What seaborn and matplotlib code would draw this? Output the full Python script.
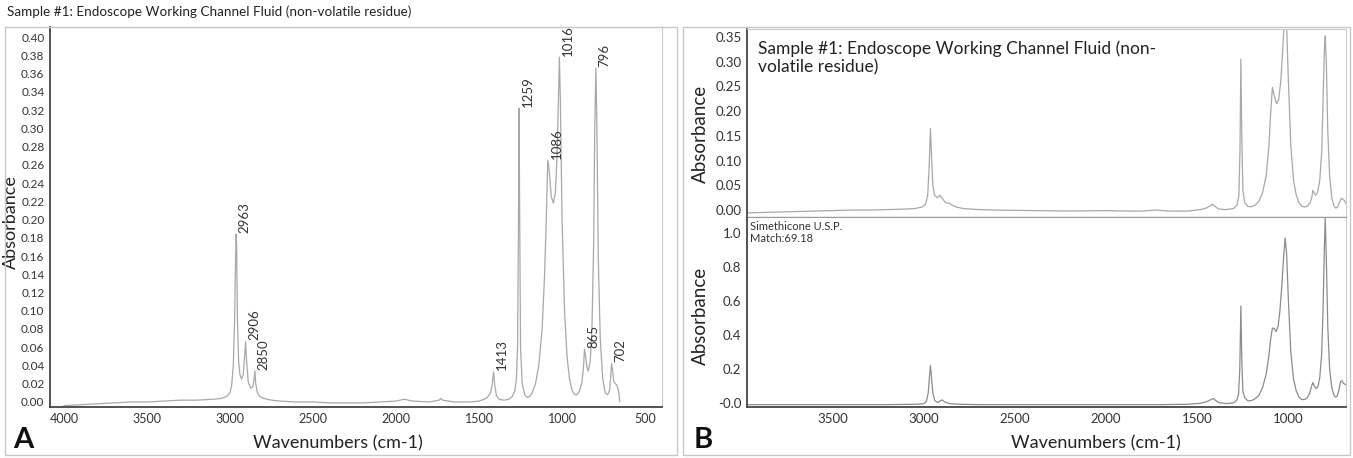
import matplotlib
matplotlib.use("Agg")
import matplotlib.pyplot as plt
from matplotlib.patches import Rectangle
import seaborn as sns

# --- panel A: sample spectrum ---
wn_a = [4000, 3900, 3800, 3700, 3600, 3500, 3400, 3300, 3200, 3100, 3050, 3020,
        3000, 2990, 2980, 2972, 2966, 2963, 2960, 2955, 2948, 2940, 2930, 2920,
        2912, 2906, 2900, 2890, 2875, 2862, 2855, 2850, 2845, 2835, 2820, 2800,
        2750, 2700, 2600, 2500, 2400, 2300, 2200, 2100, 2000, 1950, 1900, 1800,
        1740, 1730, 1720, 1650, 1600, 1550, 1500, 1470, 1450, 1430, 1420, 1413,
        1405, 1395, 1380, 1350, 1320, 1300, 1285, 1275, 1268, 1263, 1259, 1255,
        1250, 1240, 1225, 1210, 1195, 1180, 1160, 1140, 1120, 1105, 1095, 1086,
        1078, 1065, 1052, 1040, 1030, 1022, 1016, 1010, 1000, 985, 970, 955,
        940, 925, 910, 895, 880, 870, 865, 858, 850, 842, 830, 820,
        810, 803, 796, 790, 782, 770, 755, 740, 725, 715, 708, 702,
        696, 688, 678, 668, 660, 652]
abs_a = [-0.004, -0.003, -0.002, -0.001, 0.0, 0.0, 0.001, 0.002, 0.002, 0.003, 0.004, 0.006,
         0.010, 0.018, 0.040, 0.090, 0.160, 0.184, 0.170, 0.090, 0.045, 0.030, 0.025, 0.030,
         0.050, 0.066, 0.045, 0.022, 0.015, 0.017, 0.025, 0.034, 0.020, 0.010, 0.006, 0.004,
         0.002, 0.001, 0.0, 0.0, -0.001, -0.001, -0.001, 0.0, 0.001, 0.003, 0.001, 0.0,
         0.002, 0.004, 0.002, 0.0, 0.0, 0.0, 0.001, 0.003, 0.005, 0.010, 0.020, 0.033,
         0.018, 0.007, 0.003, 0.002, 0.003, 0.006, 0.012, 0.025, 0.060, 0.180, 0.322, 0.200,
         0.060, 0.020, 0.008, 0.005, 0.006, 0.010, 0.020, 0.040, 0.080, 0.140, 0.200, 0.265,
         0.255, 0.225, 0.218, 0.230, 0.270, 0.330, 0.378, 0.330, 0.200, 0.100, 0.050, 0.025,
         0.013, 0.008, 0.008, 0.012, 0.022, 0.040, 0.058, 0.050, 0.038, 0.034, 0.045, 0.080,
         0.170, 0.300, 0.366, 0.300, 0.160, 0.070, 0.025, 0.010, 0.008, 0.012, 0.025, 0.042,
         0.035, 0.022, 0.020, 0.018, 0.012, 0.0]

peak_labels = [2963, 2906, 2850, 1413, 1259, 1086, 1016, 865, 796, 702]
peak_heights = [0.184, 0.066, 0.034, 0.033, 0.322, 0.265, 0.378, 0.058, 0.366, 0.042]

# --- panel B top: same sample, library view ---
wn_b1 = [3990, 3900, 3800, 3700, 3600, 3500, 3400, 3300, 3200, 3100, 3050, 3010,
         2990, 2978, 2970, 2963, 2957, 2950, 2940, 2925, 2910, 2895, 2880, 2860,
         2845, 2820, 2780, 2700, 2600, 2400, 2200, 2000, 1900, 1800, 1730, 1650,
         1550, 1480, 1450, 1430, 1413, 1400, 1380, 1340, 1300, 1280, 1270, 1264,
         1259, 1254, 1248, 1238, 1220, 1200, 1180, 1160, 1140, 1120, 1105, 1095,
         1086, 1076, 1064, 1052, 1040, 1030, 1020, 1010, 1000, 985, 970, 955,
         940, 925, 910, 895, 880, 870, 864, 856, 848, 838, 826, 815,
         806, 800, 796, 790, 782, 772, 760, 748, 738, 728, 718, 708,
         700, 692, 684, 676]
abs_b1 = [-0.006, -0.005, -0.004, -0.003, -0.002, -0.001, 0.0, 0.0, 0.001, 0.002, 0.003, 0.006,
          0.012, 0.030, 0.090, 0.165, 0.110, 0.050, 0.030, 0.025, 0.030, 0.022, 0.015, 0.014,
          0.010, 0.006, 0.003, 0.001, 0.0, -0.001, -0.002, -0.001, -0.002, -0.002, 0.0, -0.002,
          -0.002, 0.001, 0.004, 0.008, 0.012, 0.007, 0.002, 0.001, 0.003, 0.010, 0.030, 0.120,
          0.305, 0.150, 0.040, 0.015, 0.007, 0.007, 0.010, 0.018, 0.035, 0.070, 0.130, 0.200,
          0.248, 0.232, 0.215, 0.222, 0.260, 0.320, 0.390, 0.400, 0.280, 0.130, 0.060, 0.030,
          0.015, 0.008, 0.006, 0.008, 0.014, 0.025, 0.040, 0.034, 0.030, 0.036, 0.060, 0.120,
          0.250, 0.330, 0.352, 0.300, 0.160, 0.070, 0.025, 0.008, 0.004, 0.006, 0.015, 0.024,
          0.022, 0.020, 0.015, 0.008]

# --- panel B bottom: Simethicone U.S.P. reference ---
wn_b2 = [3990, 3800, 3600, 3400, 3200, 3050, 3000, 2985, 2975, 2968, 2963, 2958,
         2950, 2940, 2925, 2910, 2900, 2885, 2860, 2800, 2700, 2500, 2300, 2100,
         1900, 1700, 1550, 1480, 1440, 1420, 1410, 1400, 1380, 1340, 1300, 1282,
         1272, 1265, 1259, 1254, 1248, 1238, 1220, 1200, 1180, 1160, 1140, 1120,
         1105, 1095, 1086, 1076, 1066, 1055, 1045, 1035, 1025, 1016, 1008, 998,
         985, 970, 955, 940, 925, 910, 895, 882, 872, 864, 856, 846,
         836, 826, 816, 808, 801, 796, 790, 782, 772, 760, 750, 740,
         730, 720, 712, 704, 696, 688, 680, 676]
abs_b2 = [-0.010, -0.010, -0.010, -0.010, -0.010, -0.008, -0.005, 0.010, 0.060, 0.160, 0.220, 0.160,
          0.060, 0.015, 0.002, 0.012, 0.018, 0.006, -0.004, -0.008, -0.010, -0.010, -0.010, -0.010,
          -0.010, -0.010, -0.008, -0.002, 0.010, 0.022, 0.026, 0.016, 0.002, -0.004, 0.0, 0.015,
          0.050, 0.200, 0.570, 0.250, 0.070, 0.030, 0.012, 0.014, 0.025, 0.045, 0.090, 0.170,
          0.280, 0.380, 0.440, 0.438, 0.420, 0.450, 0.540, 0.680, 0.850, 0.970, 0.880, 0.600,
          0.300, 0.140, 0.070, 0.035, 0.020, 0.020, 0.030, 0.055, 0.095, 0.120, 0.100, 0.085,
          0.095, 0.150, 0.280, 0.550, 0.900, 1.090, 0.850, 0.450, 0.200, 0.090, 0.050, 0.035,
          0.040, 0.080, 0.125, 0.130, 0.115, 0.110, 0.105, 0.095]

a_ticks_y = [round(0.02 * i, 2) for i in range(21)]
a_ticks_x = [4000, 3500, 3000, 2500, 2000, 1500, 1000, 500]
b_ticks_x = [3500, 3000, 2500, 2000, 1500, 1000]
b1_ticks_y = [0.0, 0.05, 0.10, 0.15, 0.20, 0.25, 0.30, 0.35]
b2_ticks_y = [0.0, 0.2, 0.4, 0.6, 0.8, 1.0]

sns.set_style("white")
plt.rcParams["font.family"] = ["Lato", "DejaVu Sans"]

W, H = 1353, 458
fig = plt.figure(figsize=(W / 100, H / 100), dpi=100)

def fx(px):
    return px / W

def fy(py):
    return 1 - py / H

line_col = "#a8a8a8"
spine_dark = "#444444"
spine_light = "#cccccc"

def style_axes(ax, fs):
    for s in ["left", "bottom"]:
        ax.spines[s].set_color(spine_dark)
        ax.spines[s].set_linewidth(1.3)
    for s in ["top", "right"]:
        ax.spines[s].set_color(spine_light)
        ax.spines[s].set_linewidth(0.8)
    ax.tick_params(axis="both", labelsize=fs, colors="#333333", length=2, width=0.8, pad=2)

# panel frames
for x0, x1 in [(5, 677), (683, 1350)]:
    fig.add_artist(Rectangle((fx(x0), fy(455)), fx(x1) - fx(x0), fy(27) - fy(455),
                             transform=fig.transFigure, fill=False, ec="#c8c8c8", lw=1))

# ---------- panel A ----------
axA = fig.add_axes([fx(50), fy(407), fx(662) - fx(50), fy(27) - fy(407)])
sns.lineplot(x=wn_a, y=abs_a, ax=axA, sort=False, estimator=None, color=line_col, lw=0.9)
axA.set_xlim(4084, 398)
axA.set_ylim(-0.0055, 0.411)
axA.set_xticks(a_ticks_x)
axA.set_yticks(a_ticks_y)
axA.set_yticklabels([f"{v:.2f}" for v in a_ticks_y])
axA.set_xlabel("Wavenumbers (cm-1)", fontsize=13, color="#222222")
axA.xaxis.set_label_coords(0.47, -0.075)
axA.set_ylabel("Absorbance", fontsize=13, color="#222222")
axA.yaxis.set_label_coords(-0.05, 0.487)
style_axes(axA, 8.5)
axA.tick_params(axis="x", labelsize=9)
for wn, h in zip(peak_labels, peak_heights):
    axA.annotate(str(wn), xy=(wn, h), xytext=(2, 1), textcoords="offset points",
                 rotation=90, ha="left", va="bottom", fontsize=9.5, color="#333333")

fig.text(fx(7), fy(12), "Sample #1: Endoscope Working Channel Fluid (non-volatile residue)",
         fontsize=9.7, color="#222222", va="center", ha="left")
fig.text(fx(13), fy(440), "A", fontsize=21, fontweight="bold", color="#111111", va="center")

# ---------- panel B top ----------
axB1 = fig.add_axes([fx(747), fy(217), fx(1346) - fx(747), fy(29) - fy(217)])
sns.lineplot(x=wn_b1, y=abs_b1, ax=axB1, sort=False, estimator=None, color=line_col, lw=0.9)
axB1.set_xlim(3970, 682)
axB1.set_ylim(-0.014, 0.366)
axB1.set_yticks(b1_ticks_y)
axB1.set_yticklabels([f"{v:.2f}" for v in b1_ticks_y])
axB1.set_xticks(b_ticks_x)
axB1.set_xlabel("")
axB1.set_ylabel("Absorbance", fontsize=13.5, color="#222222")
axB1.yaxis.set_label_coords(-0.064, 0.44)
style_axes(axB1, 9.5)
axB1.tick_params(axis="x", labelbottom=False, length=0)
axB1.spines["bottom"].set_color("#999999")
axB1.spines["bottom"].set_linewidth(1.0)
axB1.text(0.018, 0.94, "Sample #1: Endoscope Working Channel Fluid (non-\nvolatile residue)",
          transform=axB1.transAxes, fontsize=12.5, color="#222222", va="top", ha="left",
          linespacing=1.2)

# ---------- panel B bottom ----------
axB2 = fig.add_axes([fx(747), fy(407), fx(1346) - fx(747), fy(218) - fy(407)])
sns.lineplot(x=wn_b2, y=abs_b2, ax=axB2, sort=False, estimator=None, color="#8c8c8c", lw=0.9)
axB2.set_xlim(3970, 682)
axB2.set_ylim(-0.024, 1.088)
axB2.set_xticks(b_ticks_x)
axB2.set_yticks(b2_ticks_y)
axB2.set_yticklabels(["-0.0" if v == 0 else f"{v:.1f}" for v in b2_ticks_y])
axB2.set_xlabel("Wavenumbers (cm-1)", fontsize=13, color="#222222")
axB2.xaxis.set_label_coords(0.582, -0.151)
axB2.set_ylabel("Absorbance", fontsize=13.5, color="#222222")
axB2.yaxis.set_label_coords(-0.064, 0.48)
style_axes(axB2, 9.5)
axB2.spines["top"].set_visible(False)
axB2.text(0.005, 0.985, "Simethicone U.S.P.\nMatch:69.18", transform=axB2.transAxes,
          fontsize=8, color="#333333", va="top", ha="left", linespacing=1.1)

fig.text(fx(694), fy(440), "B", fontsize=21, fontweight="bold", color="#111111", va="center")

fig.savefig("out.png", dpi=100)
